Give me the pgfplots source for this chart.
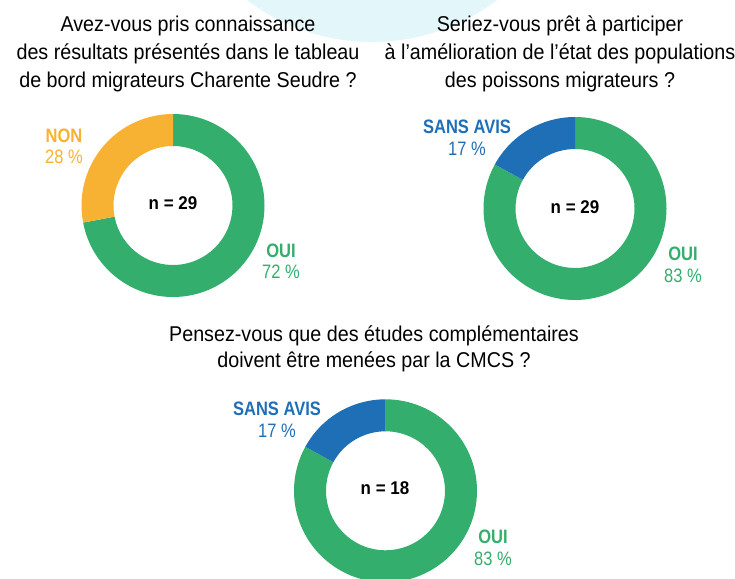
\documentclass[border=0pt]{standalone}
\usepackage{pgfplots}
\usepackage{pgfplotstable}
\pgfplotsset{compat=1.18}
\usepackage{fontspec}
\setmainfont{Liberation Sans}
\newfontfamily\titlefont{Liberation Sans}[FakeStretch=0.92]
\newfontfamily\labfont{Liberation Sans}[FakeStretch=0.85]
\newfontfamily\nfont{Liberation Sans}[FakeStretch=0.92]

\definecolor{cgreen}{HTML}{33AE6C}
\definecolor{corange}{HTML}{F8B233}
\definecolor{cblue}{HTML}{1F6FB7}
\definecolor{cbg}{HTML}{E3F6FA}

\pgfplotstableread{
label value
OUI 72
NON 28
}\tableA
\pgfplotstableread{
label value
OUI 83
SANSAVIS 17
}\tableB
\pgfplotstableread{
label value
OUI 83
SANSAVIS 17
}\tableC

\newcommand\getv[3]{\pgfplotstablegetelem{#2}{value}\of{#1}\let#3\pgfplotsretval}
% annular sector: center x, center y, start angle, end angle, colour
\newcommand\sector[5]{%
  \fill[#5] ([shift={(#3:91.5bp)}]axis cs:#1,#2) arc[start angle=#3,end angle=#4,radius=91.5bp]
    -- ([shift={(#4:59.5bp)}]axis cs:#1,#2) arc[start angle=#4,end angle=#3,radius=59.5bp] -- cycle;}

\newcommand\ttl[3]{\node[anchor=base,inner sep=0pt,font=\titlefont\fontsize{21.5}{28}\selectfont] at (axis cs:#1,#2) {#3};}
\newcommand\lab[4]{\node[anchor=base,inner sep=0pt,text=#4,font=\labfont\fontsize{19.5}{22}\selectfont] at (axis cs:#1,#2) {#3};}
\newcommand\nlab[3]{\node[anchor=base,inner sep=0pt,font=\nfont\bfseries\fontsize{18.5}{20}\selectfont] at (axis cs:#1,#2) {#3};}

\begin{document}
\begin{tikzpicture}
\useasboundingbox (0,0) rectangle (735bp,579bp);
\clip (0,0) rectangle (735bp,579bp);
\getv{\tableA}{0}\vAa
\getv{\tableA}{1}\vAb
\pgfmathsetmacro\angA{90-3.6*\vAa}
\getv{\tableB}{0}\vBa
\getv{\tableB}{1}\vBb
\pgfmathsetmacro\angB{90-3.6*\vBa}
\getv{\tableC}{0}\vCa
\getv{\tableC}{1}\vCb
\pgfmathsetmacro\angC{90-3.6*\vCa}
\begin{axis}[
  scale only axis, width=735bp, height=579bp,
  xmin=0, xmax=735, ymin=0, ymax=579, y dir=reverse,
  hide axis, clip=false, enlargelimits=false,
]
\fill[cbg] (axis cs:372,-165) circle[radius=207bp];

% titles
\ttl{188}{31.5}{Avez-vous pris connaissance}
\ttl{188}{59.5}{des résultats présentés dans le tableau}
\ttl{188}{87.5}{de bord migrateurs Charente Seudre ?}
\ttl{560}{31.5}{Seriez-vous prêt à participer}
\ttl{560}{59.5}{à l’amélioration de l’état des populations}
\ttl{560}{87.5}{des poissons migrateurs ?}
\ttl{374}{341}{Pensez-vous que des études complémentaires}
\ttl{374}{367.5}{doivent être menées par la CMCS ?}

% donut 1
\sector{173}{205.5}{90}{\angA}{cgreen}
\sector{173}{205.5}{\angA}{-270}{corange}
% donut 2
\sector{575}{208.5}{90}{\angB}{cgreen}
\sector{575}{208.5}{\angB}{-270}{cblue}
% donut 3
\sector{385.5}{490.8}{90}{\angC}{cgreen}
\sector{385.5}{490.8}{\angC}{-270}{cblue}

% centre texts
\nlab{173}{209.5}{n = 29}
\nlab{575}{213.5}{n = 29}
\nlab{385}{494.5}{n = 18}

% labels
\lab{64}{142}{\bfseries NON}{corange}
\lab{64}{163.5}{\vAb\ \%}{corange}
\lab{281}{257}{\bfseries OUI}{cgreen}
\lab{281}{278.5}{\vAa\ \%}{cgreen}
\lab{467}{133.5}{\bfseries SANS AVIS}{cblue}
\lab{467}{155.5}{\vBb\ \%}{cblue}
\lab{683}{260}{\bfseries OUI}{cgreen}
\lab{683}{282}{\vBa\ \%}{cgreen}
\lab{277}{415}{\bfseries SANS AVIS}{cblue}
\lab{277}{437.5}{\vCb\ \%}{cblue}
\lab{493}{543}{\bfseries OUI}{cgreen}
\lab{493}{565}{\vCa\ \%}{cgreen}
\end{axis}
\end{tikzpicture}
\end{document}
